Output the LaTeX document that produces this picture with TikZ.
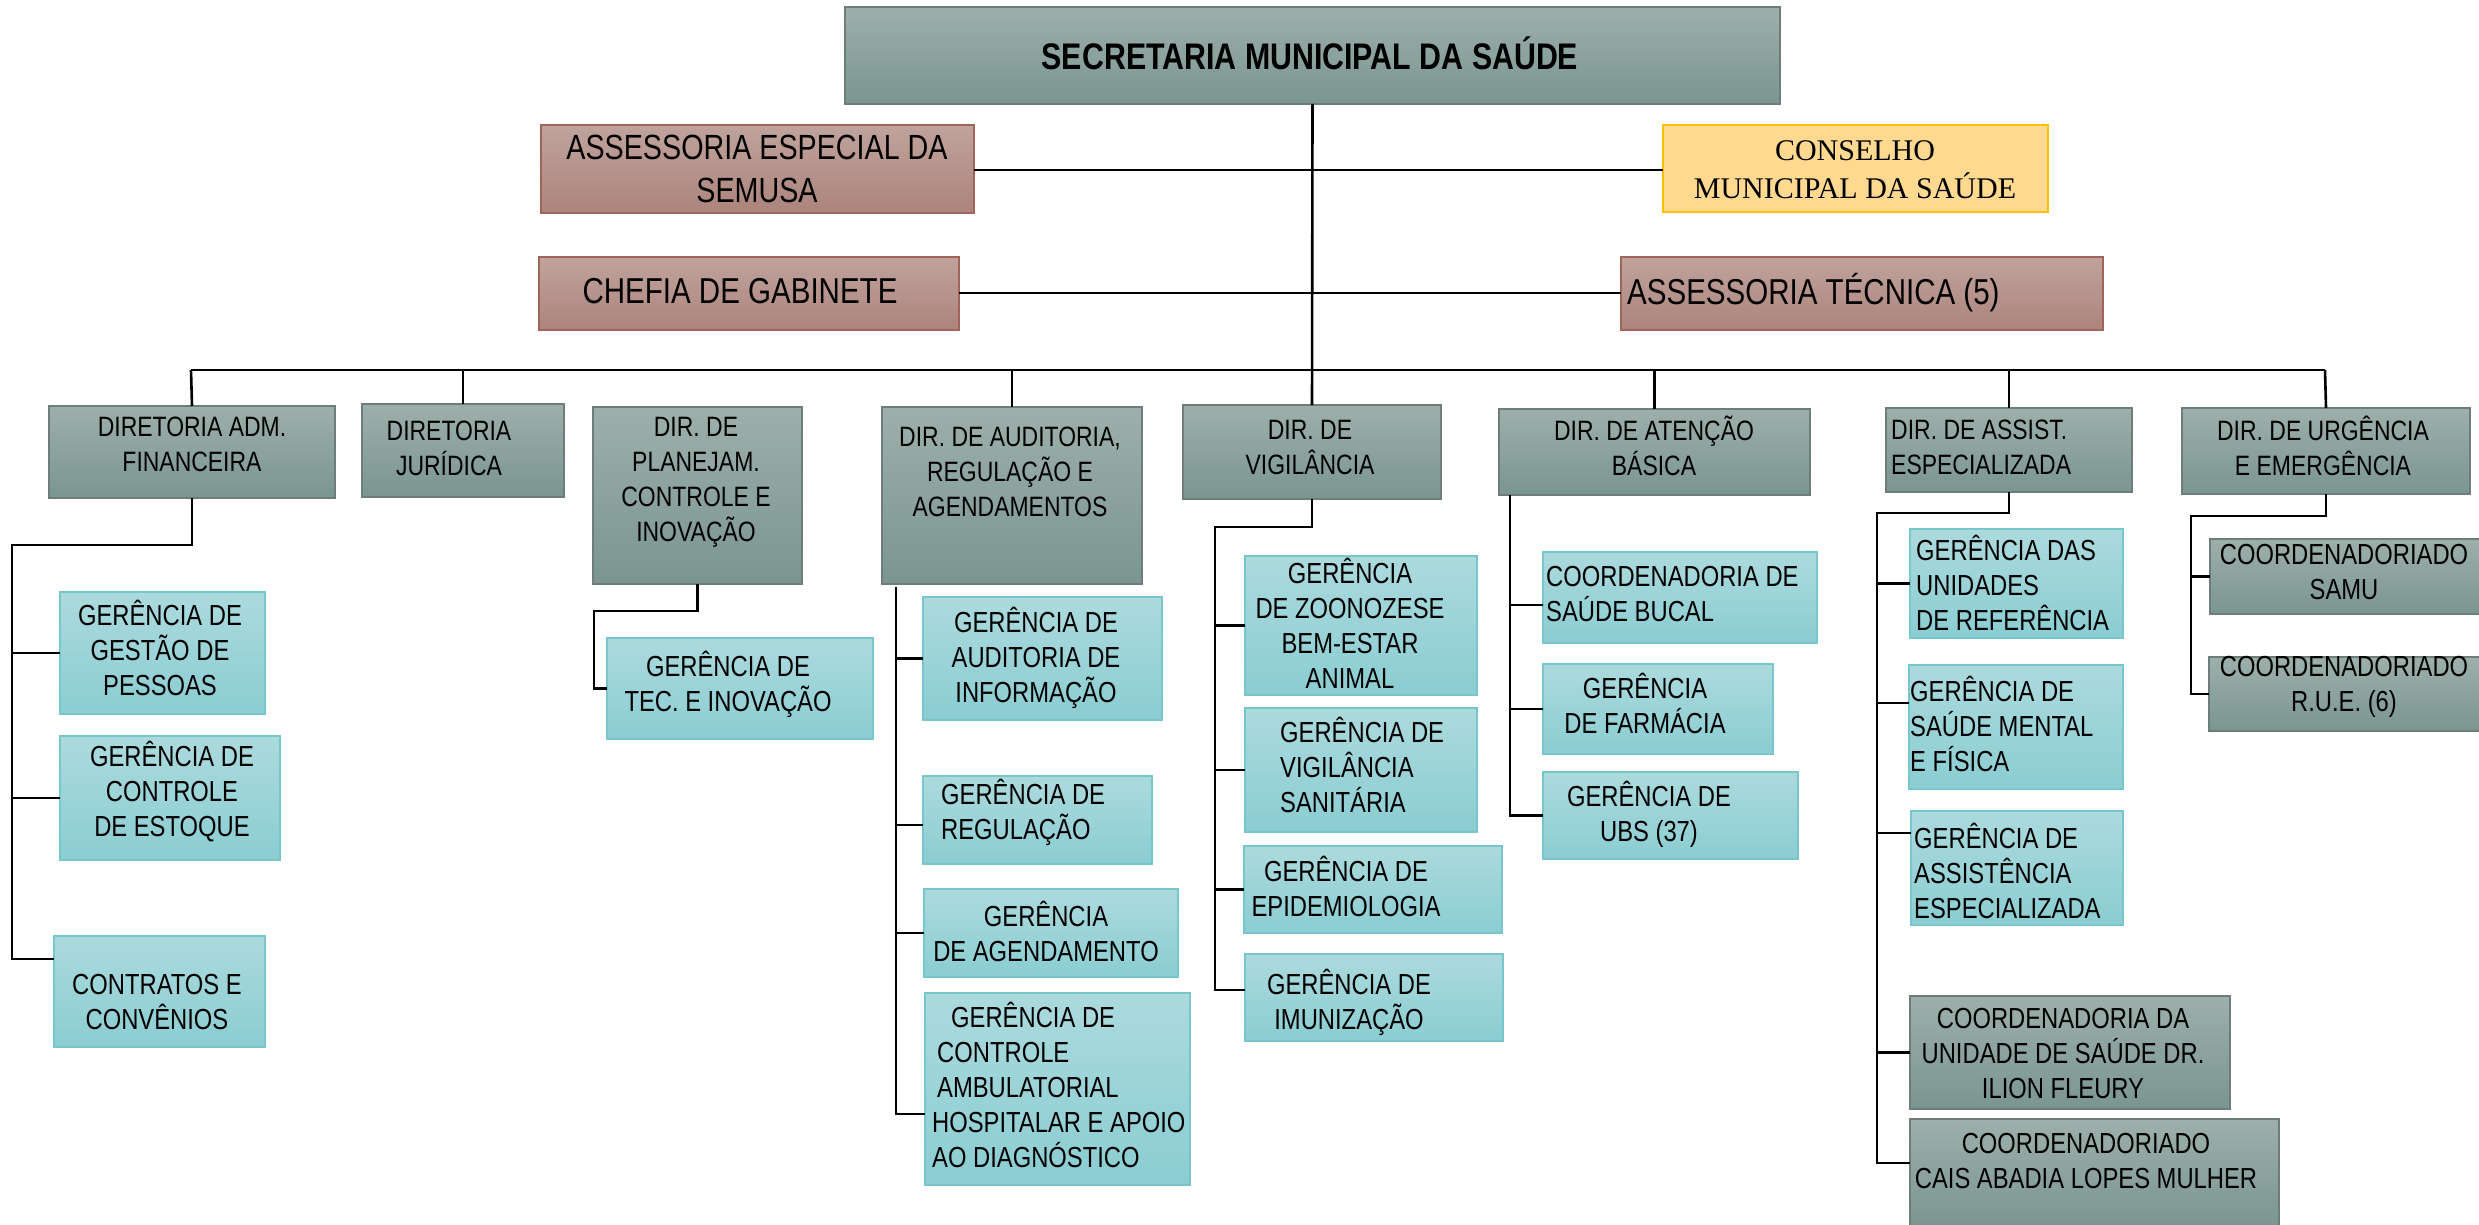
\documentclass[tikz,border=0pt]{standalone}
\usepackage{fontspec}
\setmainfont{Liberation Sans}[FakeStretch=0.82]
\newfontfamily\serifF{Liberation Serif}
\definecolor{gtop}{RGB}{157,175,171}
\definecolor{gbot}{RGB}{122,149,144}
\definecolor{gborder}{RGB}{110,125,122}
\definecolor{ttop}{RGB}{172,218,221}
\definecolor{tbot}{RGB}{138,205,210}
\definecolor{tborder}{RGB}{118,198,203}
\definecolor{btop}{RGB}{192,163,157}
\definecolor{bbot}{RGB}{172,132,124}
\definecolor{bborder}{RGB}{160,100,90}
\definecolor{yfill}{RGB}{255,217,143}
\definecolor{yborder}{RGB}{255,192,0}
\tikzset{
  gbox/.style={draw=gborder,line width=2pt,top color=gtop,bottom color=gbot,inner sep=0pt,outer sep=0pt},
  tbox/.style={draw=tborder,line width=2pt,top color=ttop,bottom color=tbot,inner sep=0pt,outer sep=0pt},
  bbox/.style={draw=bborder,line width=1.5pt,top color=btop,bottom color=bbot,inner sep=0pt,outer sep=0pt},
  ybox/.style={draw=yborder,line width=2.5pt,fill=yfill,inner sep=0pt,outer sep=0pt},
  conn/.style={line width=2.6pt,black},
  dlbl/.style={font=\fontsize{28}{35}\selectfont,align=center,inner sep=0pt},
  glbl/.style={font=\fontsize{29}{35}\selectfont,align=center,inner sep=0pt},
  blbl/.style={font=\fontsize{36}{43}\selectfont,align=center,inner sep=0pt},
}
\newcommand\obox[6]{\node[#2,minimum width={#5-#3},minimum height={#6-#4}] (#1) at ({(#3+#5)/2},{(#4+#6)/2}) {};}
\begin{document}
\begin{tikzpicture}[x=1pt,y=-1pt]
\useasboundingbox (0,0) rectangle (2479,1225);
% ---------- boxes ----------
\obox{sec}{gbox}{845}{7}{1780}{104}
\obox{ase}{bbox}{541}{125}{974}{213}
\obox{cons}{ybox}{1663}{125}{2048}{212}
\obox{chef}{bbox}{539}{257}{959}{330}
\obox{atec}{bbox}{1621}{257}{2103}{330}
\obox{adm}{gbox}{49}{406}{335}{498}
\obox{jur}{gbox}{362}{404}{564}{497}
\obox{plan}{gbox}{593}{407}{802}{584}
\obox{aud}{gbox}{882}{407}{1142}{584}
\obox{vig}{gbox}{1183}{405}{1441}{499}
\obox{aten}{gbox}{1499}{409}{1810}{495}
\obox{assi}{gbox}{1886}{408}{2132}{492}
\obox{urg}{gbox}{2182}{408}{2470}{494}
\obox{gest}{tbox}{60}{592}{265}{714}
\obox{ctrl}{tbox}{60}{736}{280}{860}
\obox{contr}{tbox}{54}{936}{265}{1047}
\obox{tec}{tbox}{607}{638}{873}{739}
\obox{audi}{tbox}{923}{597}{1162}{720}
\obox{regu}{tbox}{923}{776}{1152}{864}
\obox{agen}{tbox}{924}{889}{1178}{977}
\obox{camb}{tbox}{925}{993}{1190}{1185}
\obox{zoo}{tbox}{1245}{556}{1477}{695}
\obox{vsan}{tbox}{1245}{708}{1477}{832}
\obox{epid}{tbox}{1244}{846}{1502}{933}
\obox{imun}{tbox}{1245}{954}{1503}{1041}
\obox{buc}{tbox}{1543}{552}{1817}{643}
\obox{farm}{tbox}{1543}{664}{1773}{754}
\obox{ubs}{tbox}{1543}{772}{1798}{859}
\obox{unid}{tbox}{1910}{529}{2123}{638}
\obox{ment}{tbox}{1909}{665}{2123}{789}
\obox{aesp}{tbox}{1911}{811}{2123}{925}
\obox{ilio}{gbox}{1910}{996}{2230}{1109}
\obox{cais}{gbox}{1910}{1119}{2279}{1228}
\obox{samu}{gbox}{2210}{539}{2482}{614}
\obox{rue}{gbox}{2209}{657}{2482}{731}
% ---------- texts ----------
\node[inner sep=0pt,font=\fontsize{37}{44}\selectfont\bfseries] (sec-t) at (1310,53) {SECRETARIA MUNICIPAL DA SAÚDE};
\node[inner sep=0pt,align=center,font=\fontsize{35}{43}\selectfont] (ase-t) at (757,169) {ASSESSORIA ESPECIAL DA\\SEMUSA};
\node[inner sep=0pt,align=center,font=\serifF\fontsize{30}{38}\selectfont] (cons-t) at (1855,170) {CONSELHO\\MUNICIPAL DA SAÚDE};
\node[blbl] (chef-t) at (740,291) {CHEFIA DE GABINETE};
\node[blbl,anchor=west] (atec-t) at (1627,293) {ASSESSORIA TÉCNICA (5)};
\node[dlbl] (adm-t) at (192,444) {DIRETORIA ADM.\\FINANCEIRA};
\node[dlbl] (jur-t) at (449,448) {DIRETORIA\\JURÍDICA};
\node[dlbl] (plan-t) at (696,482) {DIR. DE\\PLANEJAM.\\CONTROLE E\\INOVAÇÃO};
\node[dlbl] (aud-t) at (1010,472) {DIR. DE AUDITORIA,\\REGULAÇÃO E\\AGENDAMENTOS};
\node[dlbl] (vig-t) at (1310,448) {DIR. DE\\VIGILÂNCIA};
\node[dlbl] (aten-t) at (1654,446) {DIR. DE ATENÇÃO\\BÁSICA};
\node[dlbl,align=left,anchor=west] (assi-t) at (1891,447) {DIR. DE ASSIST.\\ESPECIALIZADA};
\node[dlbl] (urg-t) at (2323,446) {DIR. DE URGÊNCIA\\E EMERGÊNCIA};
\node[glbl] (gest-t) at (160,648) {GERÊNCIA DE\\GESTÃO DE\\PESSOAS};
\node[glbl] (ctrl-t) at (172,792) {GERÊNCIA DE\\CONTROLE\\DE ESTOQUE};
\node[glbl] (contr-t) at (157,1002) {CONTRATOS E\\CONVÊNIOS};
\node[glbl] (tec-t) at (728,684) {GERÊNCIA DE\\TEC. E INOVAÇÃO};
\node[glbl] (audi-t) at (1036,658) {GERÊNCIA DE\\AUDITORIA DE\\INFORMAÇÃO};
\node[glbl,align=left,anchor=west] (regu-t) at (941,812) {GERÊNCIA DE\\REGULAÇÃO};
\node[glbl] (agen-t) at (1046,931) {GERÊNCIA\\DE AGENDAMENTO};
\node[glbl,align=left,anchor=west] (camb-t) at (932,1085) {\hspace*{19pt}GERÊNCIA DE\\\hspace*{5pt}CONTROLE\\\hspace*{5pt}AMBULATORIAL\\HOSPITALAR E APOIO\\AO DIAGNÓSTICO};
\node[glbl] (zoo-t) at (1350,623) {GERÊNCIA\\DE ZOONOZESE\\BEM-ESTAR\\ANIMAL};
\node[glbl,align=left,anchor=west] (vsan-t) at (1280,765) {GERÊNCIA DE\\VIGILÂNCIA\\SANITÁRIA};
\node[glbl] (epid-t) at (1346,886) {GERÊNCIA DE\\EPIDEMIOLOGIA};
\node[glbl] (imun-t) at (1349,1002) {GERÊNCIA DE\\IMUNIZAÇÃO};
\node[glbl,align=left,anchor=west] (buc-t) at (1546,594) {COORDENADORIA DE\\SAÚDE BUCAL};
\node[glbl] (farm-t) at (1645,703) {GERÊNCIA\\DE FARMÁCIA};
\node[glbl] (ubs-t) at (1649,814) {GERÊNCIA DE\\UBS (37)};
\node[glbl,align=left,anchor=west] (unid-t) at (1916,583) {GERÊNCIA DAS\\UNIDADES\\DE REFERÊNCIA};
\node[glbl,align=left,anchor=west] (ment-t) at (1910,724) {GERÊNCIA DE\\SAÚDE MENTAL\\E FÍSICA};
\node[glbl,align=left,anchor=west] (aesp-t) at (1914,871) {GERÊNCIA DE\\ASSISTÊNCIA\\ESPECIALIZADA};
\node[glbl] (ilio-t) at (2063,1054) {COORDENADORIA DA\\UNIDADE DE SAÚDE DR.\\ILION FLEURY};
\node[glbl] (cais-t) at (2086,1161) {COORDENADORIADO\\CAIS ABADIA LOPES MULHER};
\node[glbl] (samu-t) at (2344,572) {COORDENADORIADO\\SAMU};
\node[glbl] (rue-t) at (2344,687) {COORDENADORIADO\\R.U.E. (6)};
% ---------- connectors ----------
\coordinate (busL) at (191,370);
\coordinate (busR) at (2325,370);
\draw[conn] (sec.south) -- (vig.north);
\draw[conn] (ase.east |- 0,170) -- (cons.west |- 0,170);
\draw[conn] (chef.east |- 0,293) -- (atec.west |- 0,293);
\draw[conn] (busL) -- (busR);
\draw[conn] (busL) -- (adm.north);
\draw[conn] (jur.north |- busL) -- (jur.north);
\draw[conn] (aud.north |- busL) -- (aud.north);
\draw[conn] (aten.north |- busL) -- (aten.north);
\draw[conn] (assi.north |- busL) -- (assi.north);
\draw[conn] (busR) -- (urg.north);
% adm
\coordinate (admJ) at (12,545);
\draw[conn] (adm.south) |- (admJ) -- (admJ |- 0,959) -- (contr.west |- 0,959);
\draw[conn] (admJ |- gest.west) -- (gest.west);
\draw[conn] (admJ |- ctrl.west) -- (ctrl.west);
% planejamento
\coordinate (planJ) at (594,611);
\draw[conn] (plan.south) |- (planJ) |- (tec.west);
% auditoria
\coordinate (audJ) at (896,587);
\draw[conn] (audJ) -- (audJ |- 0,1114) -- (camb.west |- 0,1114);
\draw[conn] (audJ |- audi.west) -- (audi.west);
\draw[conn] (audJ |- 0,825) -- (regu.west |- 0,825);
\draw[conn] (audJ |- agen.west) -- (agen.west);
% vigilancia
\coordinate (vigJ) at (1215,527);
\draw[conn] (vig.south) |- (vigJ) |- (imun.west |- 0,990);
\draw[conn] (vigJ |- zoo.west) -- (zoo.west);
\draw[conn] (vigJ |- vsan.west) -- (vsan.west);
\draw[conn] (vigJ |- epid.west) -- (epid.west);
% atencao basica
\coordinate (atenJ) at (1510,495);
\draw[conn] (atenJ) |- (ubs.west);
\draw[conn] (atenJ |- 0,605) -- (buc.west |- 0,605);
\draw[conn] (atenJ |- farm.west) -- (farm.west);
% assist especializada
\coordinate (assiJ) at (1877,513);
\draw[conn] (assi.south) |- (assiJ) |- (cais.west |- 0,1163);
\draw[conn] (assiJ |- unid.west) -- (unid.west);
\draw[conn] (assiJ |- 0,703) -- (ment.west |- 0,703);
\draw[conn] (assiJ |- 0,833) -- (aesp.west |- 0,833);
\draw[conn] (assiJ |- ilio.west) -- (ilio.west);
% urgencia
\coordinate (urgJ) at (2191,516);
\draw[conn] (urg.south) |- (urgJ) |- (rue.west);
\draw[conn] (urgJ |- samu.west) -- (samu.west);
\end{tikzpicture}
\end{document}
